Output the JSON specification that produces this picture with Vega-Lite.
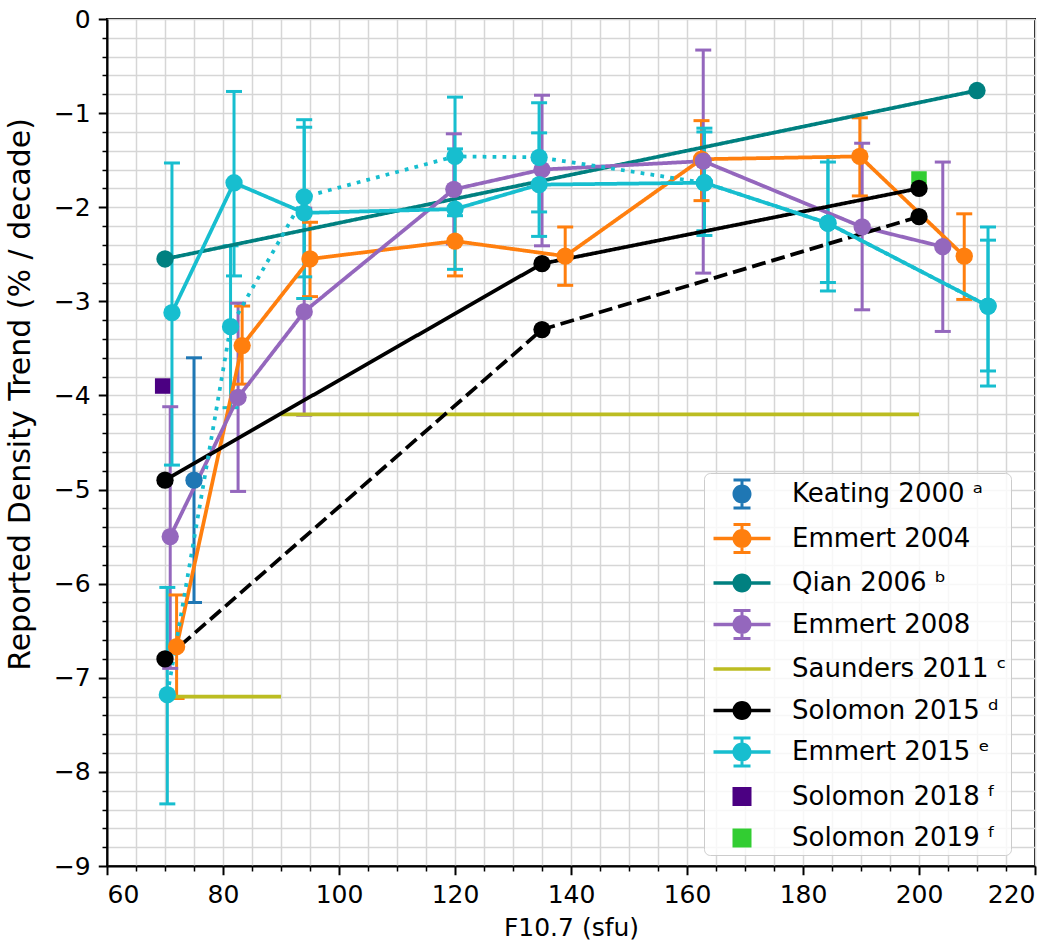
{
  "$schema": "https://vega.github.io/schema/vega-lite/v6.json",
  "width": 928,
  "height": 847,
  "autosize": "none",
  "padding": {"left": 107, "top": 19, "right": 28, "bottom": 79},
  "config": {
    "font": "DejaVu Sans",
    "view": {"stroke": "black", "strokeWidth": 2},
    "axis": {
      "grid": true,
      "gridColor": "#d6d6d6",
      "gridWidth": 1.5,
      "domainColor": "black",
      "domainWidth": 2,
      "tickColor": "black",
      "labelColor": "black",
      "labelFontSize": 25,
      "labelFont": "DejaVu Sans",
      "titleFont": "DejaVu Sans",
      "titleFontSize": 25,
      "titleFontWeight": "normal",
      "titleColor": "black",
      "labelPadding": 8
    }
  },
  "data": {
    "values": [
      {"series": "Keating 2000", "group": "Keating 2000", "x": 75, "y": -4.9, "lo": -6.2, "hi": -3.6},

      {"series": "Emmert 2004", "group": "Emmert 2004", "x": 72, "y": -6.67, "lo": -7.22, "hi": -6.12},
      {"series": "Emmert 2004", "group": "Emmert 2004", "x": 83.3, "y": -3.47, "lo": -3.88, "hi": -3.05},
      {"series": "Emmert 2004", "group": "Emmert 2004", "x": 95, "y": -2.55, "lo": -2.95, "hi": -2.16},
      {"series": "Emmert 2004", "group": "Emmert 2004", "x": 120, "y": -2.36, "lo": -2.73, "hi": -2.0},
      {"series": "Emmert 2004", "group": "Emmert 2004", "x": 139, "y": -2.52, "lo": -2.83, "hi": -2.21},
      {"series": "Emmert 2004", "group": "Emmert 2004", "x": 162.5, "y": -1.49, "lo": -1.93, "hi": -1.08},
      {"series": "Emmert 2004", "group": "Emmert 2004", "x": 189.8, "y": -1.46, "lo": -1.88, "hi": -1.05},
      {"series": "Emmert 2004", "group": "Emmert 2004", "x": 207.8, "y": -2.52, "lo": -2.98, "hi": -2.07},

      {"series": "Qian 2006", "group": "Qian 2006", "x": 70, "y": -2.55},
      {"series": "Qian 2006", "group": "Qian 2006", "x": 210, "y": -0.76},

      {"series": "Emmert 2008", "group": "Emmert 2008", "x": 70.9, "y": -5.5, "lo": -6.9, "hi": -4.12},
      {"series": "Emmert 2008", "group": "Emmert 2008", "x": 82.6, "y": -4.02, "lo": -5.02, "hi": -3.02},
      {"series": "Emmert 2008", "group": "Emmert 2008", "x": 94, "y": -3.11, "lo": -4.21, "hi": -2.01},
      {"series": "Emmert 2008", "group": "Emmert 2008", "x": 119.8, "y": -1.81, "lo": -2.39, "hi": -1.22},
      {"series": "Emmert 2008", "group": "Emmert 2008", "x": 135, "y": -1.6, "lo": -2.41, "hi": -0.81},
      {"series": "Emmert 2008", "group": "Emmert 2008", "x": 162.8, "y": -1.51, "lo": -2.7, "hi": -0.33},
      {"series": "Emmert 2008", "group": "Emmert 2008", "x": 190.2, "y": -2.21, "lo": -3.09, "hi": -1.32},
      {"series": "Emmert 2008", "group": "Emmert 2008", "x": 204.1, "y": -2.42, "lo": -3.32, "hi": -1.52},

      {"series": "Saunders 2011", "group": "Saunders 2011 low", "x": 70, "y": -7.2},
      {"series": "Saunders 2011", "group": "Saunders 2011 low", "x": 90, "y": -7.2},
      {"series": "Saunders 2011", "group": "Saunders 2011 high", "x": 90, "y": -4.2},
      {"series": "Saunders 2011", "group": "Saunders 2011 high", "x": 200, "y": -4.2},

      {"series": "Solomon 2015", "group": "Solomon 2015 A", "x": 70, "y": -4.9},
      {"series": "Solomon 2015", "group": "Solomon 2015 A", "x": 135, "y": -2.6},
      {"series": "Solomon 2015", "group": "Solomon 2015 A", "x": 200, "y": -1.8},
      {"series": "Solomon 2015", "group": "Solomon 2015 B", "x": 70, "y": -6.8},
      {"series": "Solomon 2015", "group": "Solomon 2015 B", "x": 135, "y": -3.3},
      {"series": "Solomon 2015", "group": "Solomon 2015 B", "x": 200, "y": -2.1},

      {"series": "Emmert 2015", "group": "Emmert 2015 A", "x": 71.2, "y": -3.12, "lo": -4.74, "hi": -1.53},
      {"series": "Emmert 2015", "group": "Emmert 2015 A", "x": 81.9, "y": -1.74, "lo": -2.73, "hi": -0.77},
      {"series": "Emmert 2015", "group": "Emmert 2015 A", "x": 94, "y": -2.06, "lo": -2.97, "hi": -1.15},
      {"series": "Emmert 2015", "group": "Emmert 2015 A", "x": 120, "y": -2.02, "lo": -2.66, "hi": -1.38},
      {"series": "Emmert 2015", "group": "Emmert 2015 A", "x": 134.5, "y": -1.76, "lo": -2.31, "hi": -1.21},
      {"series": "Emmert 2015", "group": "Emmert 2015 A", "x": 163, "y": -1.74, "lo": -2.3, "hi": -1.16},
      {"series": "Emmert 2015", "group": "Emmert 2015 A", "x": 184.3, "y": -2.17, "lo": -2.89, "hi": -1.47},
      {"series": "Emmert 2015", "group": "Emmert 2015 A", "x": 211.9, "y": -3.05, "lo": -3.9, "hi": -2.21},
      {"series": "Emmert 2015", "group": "Emmert 2015 B", "x": 70.4, "y": -7.18, "lo": -8.34, "hi": -6.04},
      {"series": "Emmert 2015", "group": "Emmert 2015 B", "x": 81.3, "y": -3.27, "lo": -4.13, "hi": -2.41},
      {"series": "Emmert 2015", "group": "Emmert 2015 B", "x": 94, "y": -1.89, "lo": -2.74, "hi": -1.07},
      {"series": "Emmert 2015", "group": "Emmert 2015 B", "x": 120, "y": -1.46, "lo": -2.09, "hi": -0.83},
      {"series": "Emmert 2015", "group": "Emmert 2015 B", "x": 134.5, "y": -1.47, "lo": -2.05, "hi": -0.89},
      {"series": "Emmert 2015", "group": "Emmert 2015 B", "x": 163, "y": -1.74, "lo": -2.25, "hi": -1.2},
      {"series": "Emmert 2015", "group": "Emmert 2015 B", "x": 184.3, "y": -2.17, "lo": -2.8, "hi": -1.52},
      {"series": "Emmert 2015", "group": "Emmert 2015 B", "x": 211.9, "y": -3.05, "lo": -3.74, "hi": -2.35},

      {"series": "Solomon 2018", "group": "Solomon 2018", "x": 69.6, "y": -3.9},
      {"series": "Solomon 2019", "group": "Solomon 2019", "x": 200, "y": -1.7}
    ]
  },
  "encoding": {
    "x": {
      "field": "x", "type": "quantitative",
      "scale": {"domain": [60, 220], "nice": false, "zero": false},
      "axis": {
        "title": "F10.7 (sfu)",
        "titlePadding": 8,
        "values": [60,65,70,75,80,85,90,95,100,105,110,115,120,125,130,135,140,145,150,155,160,165,170,175,180,185,190,195,200,205,210,215,220],
        "labelExpr": "datum.value % 20 === 0 ? datum.label : ''",
        "tickSize": {"condition": {"test": "datum.value % 20 === 0", "value": 8.75}, "value": 5},
        "tickWidth": {"condition": {"test": "datum.value % 20 === 0", "value": 2}, "value": 1.5}
      }
    },
    "y": {
      "field": "y", "type": "quantitative",
      "scale": {"domain": [-9, 0], "nice": false, "zero": false},
      "axis": {
        "title": "Reported Density Trend (% / decade)",
        "titleFontSize": 30,
        "titleX": -87,
        "titleY": 375,
        "titleAngle": -90,
        "titleAlign": "center",
        "titleBaseline": "middle",
        "values": [0,-0.2,-0.4,-0.6,-0.8,-1,-1.2,-1.4,-1.6,-1.8,-2,-2.2,-2.4,-2.6,-2.8,-3,-3.2,-3.4,-3.6,-3.8,-4,-4.2,-4.4,-4.6,-4.8,-5,-5.2,-5.4,-5.6,-5.8,-6,-6.2,-6.4,-6.6,-6.8,-7,-7.2,-7.4,-7.6,-7.8,-8,-8.2,-8.4,-8.6,-8.8,-9],
        "labelExpr": "datum.value === 0 ? '0' : (abs(datum.value - round(datum.value)) < 0.001 ? '\u2212' + format(abs(datum.value), 'd') : '')",
        "tickSize": {"condition": {"test": "abs(datum.value - round(datum.value)) < 0.001", "value": 8.75}, "value": 5},
        "tickWidth": {"condition": {"test": "abs(datum.value - round(datum.value)) < 0.001", "value": 2}, "value": 1.5}
      }
    }
  },
  "layer": [
    {
      "transform": [{"filter": "isValid(datum.lo)"}],
      "mark": {"type": "rule", "strokeWidth": 3},
      "encoding": {
        "y": {"field": "lo", "type": "quantitative"},
        "y2": {"field": "hi"},
        "color": {"field": "series", "type": "nominal", "legend": null,
          "scale": {"domain": ["Emmert 2004","Emmert 2008","Emmert 2015","Keating 2000","Qian 2006","Saunders 2011","Solomon 2015","Solomon 2018","Solomon 2019"],
                    "range": ["#ff7f0e","#9467bd","#17becf","#1f77b4","#008080","#bcbd22","#000000","#4b0082","#32cd32"]}}
      }
    },
    {
      "transform": [{"filter": "isValid(datum.lo)"}],
      "mark": {"type": "tick", "orient": "horizontal", "size": 16, "thickness": 3, "opacity": 1},
      "encoding": {
        "y": {"field": "lo", "type": "quantitative"},
        "color": {"field": "series", "type": "nominal", "legend": null}
      }
    },
    {
      "transform": [{"filter": "isValid(datum.hi)"}],
      "mark": {"type": "tick", "orient": "horizontal", "size": 16, "thickness": 3, "opacity": 1},
      "encoding": {
        "y": {"field": "hi", "type": "quantitative"},
        "color": {"field": "series", "type": "nominal", "legend": null}
      }
    },
    {
      "transform": [{"filter": "datum.series !== 'Keating 2000' && datum.series !== 'Solomon 2018' && datum.series !== 'Solomon 2019'"}],
      "mark": {"type": "line", "strokeWidth": 3.75},
      "encoding": {
        "color": {"field": "series", "type": "nominal", "legend": null},
        "strokeDash": {"field": "group", "type": "nominal", "legend": null,
          "scale": {"domain": ["Emmert 2004","Qian 2006","Emmert 2008","Saunders 2011 low","Saunders 2011 high","Solomon 2015 A","Solomon 2015 B","Emmert 2015 A","Emmert 2015 B"],
                    "range": [[1,0],[1,0],[1,0],[1,0],[1,0],[1,0],[14,6],[1,0],[3.75,6.2]]}}
      }
    },
    {
      "transform": [{"filter": "datum.series === 'Solomon 2018' || datum.series === 'Solomon 2019'"}],
      "mark": {"type": "point", "shape": "square", "filled": true, "size": 240, "opacity": 1, "strokeWidth": 0},
      "encoding": {
        "color": {"field": "series", "type": "nominal", "legend": null}
      }
    },
    {
      "transform": [{"filter": "datum.series !== 'Saunders 2011' && datum.series !== 'Solomon 2018' && datum.series !== 'Solomon 2019'"}],
      "mark": {"type": "point", "shape": "circle", "filled": true, "size": 300, "opacity": 1, "strokeWidth": 0},
      "encoding": {
        "color": {"field": "series", "type": "nominal", "legend": null}
      }
    },
    {
      "transform": [{"filter": "datum.x > 1000"}],
      "mark": {"type": "point", "filled": true, "opacity": 1},
      "encoding": {
        "fill": {"field": "series", "type": "nominal",
          "scale": {"domain": ["Keating 2000","Emmert 2004","Qian 2006","Emmert 2008","Saunders 2011","Solomon 2015","Emmert 2015","Solomon 2018","Solomon 2019"],
                    "range": ["#1f77b4","#ff7f0e","#008080","#9467bd","#bcbd22","#000000","#17becf","#4b0082","#32cd32"]},
          "legend": {
            "orient": "none", "legendX": 597, "legendY": 454, "title": null,
            "labelFontSize": 26, "labelFont": "DejaVu Sans", "labelColor": "black", "labelLimit": 0,
            "symbolSize": 1156, "symbolStrokeWidth": 0, "symbolOpacity": 1,
            "rowPadding": 11.5, "padding": 4, "symbolOffset": 17, "labelOffset": 33,
            "fillColor": "rgba(255,255,255,0.8)", "strokeColor": "#cccccc", "cornerRadius": 6,
            "labelExpr": "datum.label === 'Keating 2000' ? 'Keating 2000 \u1d43' : datum.label === 'Qian 2006' ? 'Qian 2006 \u1d47' : datum.label === 'Saunders 2011' ? 'Saunders 2011 \u1d9c' : datum.label === 'Solomon 2015' ? 'Solomon 2015 \u1d48' : datum.label === 'Emmert 2015' ? 'Emmert 2015 \u1d49' : datum.label === 'Solomon 2018' ? 'Solomon 2018 \u1da0' : datum.label === 'Solomon 2019' ? 'Solomon 2019 \u1da0' : datum.label"
          }
        },
        "shape": {"field": "series", "type": "nominal",
          "scale": {"domain": ["Keating 2000","Emmert 2004","Qian 2006","Emmert 2008","Saunders 2011","Solomon 2015","Emmert 2015","Solomon 2018","Solomon 2019"],
                    "range": [
                      "M-0.559,0A0.559,0.559,0,1,1,0.559,0A0.559,0.559,0,1,1,-0.559,0Z M-0.088,-0.824L0.088,-0.824L0.088,0.824L-0.088,0.824Z M-0.5,-0.912L0.5,-0.912L0.5,-0.736L-0.5,-0.736Z M-0.5,0.736L0.5,0.736L0.5,0.912L-0.5,0.912Z",
                      "M-1.676,-0.11L1.676,-0.11L1.676,0.11L-1.676,0.11Z M-0.559,0A0.559,0.559,0,1,1,0.559,0A0.559,0.559,0,1,1,-0.559,0Z M-0.088,-0.824L0.088,-0.824L0.088,0.824L-0.088,0.824Z M-0.5,-0.912L0.5,-0.912L0.5,-0.736L-0.5,-0.736Z M-0.5,0.736L0.5,0.736L0.5,0.912L-0.5,0.912Z",
                      "M-1.676,-0.11L1.676,-0.11L1.676,0.11L-1.676,0.11Z M-0.559,0A0.559,0.559,0,1,1,0.559,0A0.559,0.559,0,1,1,-0.559,0Z",
                      "M-1.676,-0.11L1.676,-0.11L1.676,0.11L-1.676,0.11Z M-0.559,0A0.559,0.559,0,1,1,0.559,0A0.559,0.559,0,1,1,-0.559,0Z M-0.088,-0.824L0.088,-0.824L0.088,0.824L-0.088,0.824Z M-0.5,-0.912L0.5,-0.912L0.5,-0.736L-0.5,-0.736Z M-0.5,0.736L0.5,0.736L0.5,0.912L-0.5,0.912Z",
                      "M-1.676,-0.11L1.676,-0.11L1.676,0.11L-1.676,0.11Z",
                      "M-1.676,-0.11L1.676,-0.11L1.676,0.11L-1.676,0.11Z M-0.559,0A0.559,0.559,0,1,1,0.559,0A0.559,0.559,0,1,1,-0.559,0Z",
                      "M-1.676,-0.11L1.676,-0.11L1.676,0.11L-1.676,0.11Z M-0.559,0A0.559,0.559,0,1,1,0.559,0A0.559,0.559,0,1,1,-0.559,0Z M-0.088,-0.824L0.088,-0.824L0.088,0.824L-0.088,0.824Z M-0.5,-0.912L0.5,-0.912L0.5,-0.736L-0.5,-0.736Z M-0.5,0.736L0.5,0.736L0.5,0.912L-0.5,0.912Z",
                      "M-0.559,-0.559L0.559,-0.559L0.559,0.559L-0.559,0.559Z",
                      "M-0.559,-0.559L0.559,-0.559L0.559,0.559L-0.559,0.559Z"
                    ]}
        }
      }
    }
  ]
}
